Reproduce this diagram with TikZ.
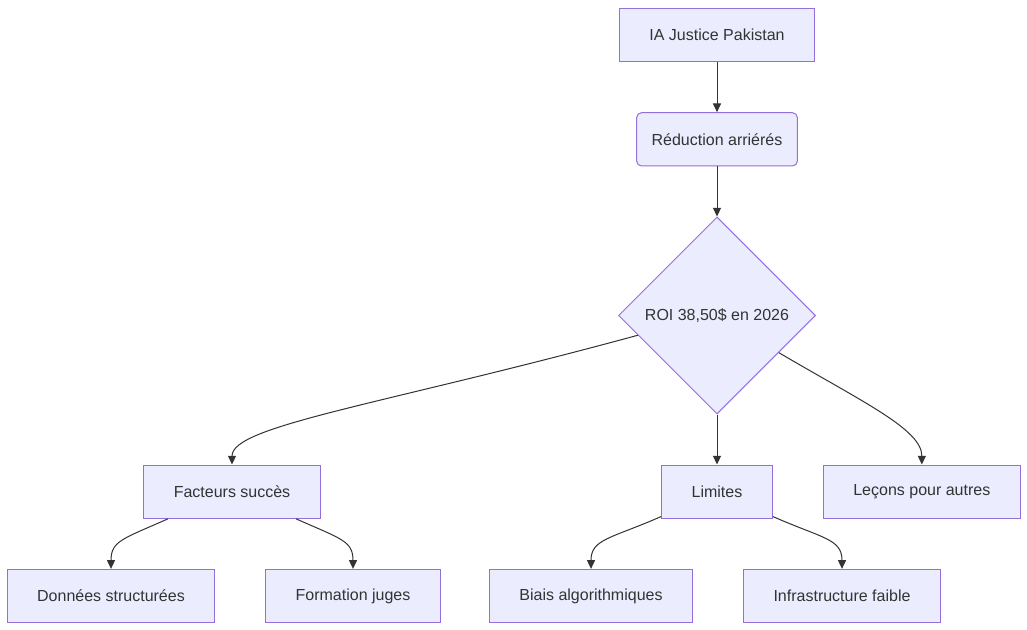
\documentclass[tikz,border=0pt]{standalone}
\usepackage{fontspec}
\setmainfont{Liberation Sans}
\usetikzlibrary{shapes.geometric, arrows.meta, positioning}
\definecolor{flowFill}{RGB}{236, 236, 255}
\definecolor{flowLine}{RGB}{147, 112, 219}
\definecolor{flowText}{RGB}{51, 51, 51}

\begin{document}
\begin{tikzpicture}[x=0.75pt, y=-0.75pt, node distance=37.5pt, font=\fontsize{12}{14}\selectfont]
    \tikzstyle{box} = [rectangle, draw=flowLine, fill=flowFill, line width=0.75pt, minimum height=40pt, inner xsep=22.5pt, text=flowText]
    \tikzstyle{decision} = [diamond, draw=flowLine, fill=flowFill, line width=0.75pt, minimum width=147.75pt, minimum height=147.75pt, inner sep=0pt, text=flowText]
    \tikzstyle{arrow} = [-{Triangle[length=6.5pt, width=6pt]}, line width=0.75pt, flowText]

    \fill[white] (0,0) rectangle (1027,630);
    \useasboundingbox (0,0) rectangle (1027,630);

    \node[box] (ia) at (717,35) {IA Justice Pakistan};
    \node[box, rounded corners=3.75pt, inner xsep=11.25pt, below=of ia] (reduc) {Réduction arriérés};
    \node[decision, below=of reduc] (roi) {ROI 38,50\$ en 2026};
    \node[box, below=of roi] (lim) {Limites};
    \node[box, right=of lim] (lecons) {Leçons pour autres};
    \node[box, below=of roi, xshift=-363.75pt] (fact) {Facteurs succès};
    \node[box, below=of fact, xshift=-90.75pt] (donnees) {Données structurées};
    \node[box, below=of fact, xshift=90.75pt] (formation) {Formation juges};
    \node[box, below=of lim, xshift=-94.5pt] (biais) {Biais algorithmiques};
    \node[box, below=of lim, xshift=93.75pt] (infra) {Infrastructure faible};

    \draw[arrow] (ia) -- (reduc);
    \draw[arrow] (reduc) -- (roi);
    \draw[arrow] (roi) -- (lim);
    \draw[arrow] (roi.194) .. controls +(-257,70) and +(0,-39) .. (fact.north);
    \draw[arrow] (roi.329) .. controls +(85,50) and +(0,-35) .. (lecons.north);
    \draw[arrow] (fact.203) .. controls +(-45,20) and +(0,-28) .. (donnees.north);
    \draw[arrow] (fact.337) .. controls +(45,20) and +(0,-28) .. (formation.north);
    \draw[arrow] (lim.204) .. controls +(-50,22) and +(0,-30) .. (biais.north);
    \draw[arrow] (lim.336) .. controls +(50,22) and +(0,-30) .. (infra.north);
\end{tikzpicture}
\end{document}
